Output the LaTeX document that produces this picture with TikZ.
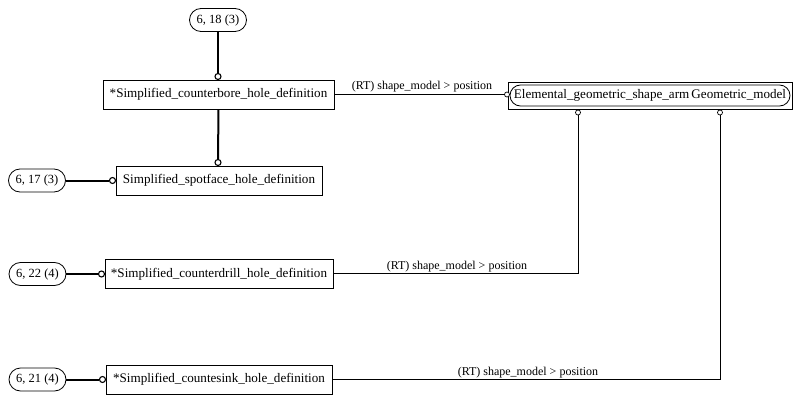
\documentclass[tikz,border=0pt]{standalone}
\usepackage{fontspec}
\setmainfont{Liberation Serif}
\usetikzlibrary{shapes.misc}
\begin{document}
\begin{tikzpicture}[x=1pt,y=-1pt,
  every node/.style={font=\fontsize{12}{14}\selectfont, inner sep=0pt},
  ebox/.style={draw, line width=0.8pt, minimum height=29pt, font=\fontsize{13.1}{15}\selectfont},
  pill/.style={draw, line width=0.8pt, rounded rectangle, minimum width=57pt, minimum height=23pt, font=\fontsize{12.5}{14}\selectfont},
  oc/.style={draw, circle, fill=white, line width=1.1pt, minimum size=6pt},
  ocs/.style={draw, circle, fill=white, line width=0.7pt, minimum size=5pt},
  thickln/.style={line width=2pt},
  thinln/.style={line width=0.8pt},
  lbl/.style={font=\fontsize{12}{14}\selectfont}]
\path[use as bounding box, fill=white] (0,0) rectangle (801,404);

\node[pill] (e18) at (218,20) {6, 18 (3)};
\node[ebox, minimum width=231pt] (cb) at (218.5,94.5) {*Simplified\_counterbore\_hole\_definition};
\node[ebox, minimum width=206pt] (sf) at (219,180.5) {Simplified\_spotface\_hole\_definition};
\node[pill] (e17) at (37,180.5) {6, 17 (3)};
\node[ebox, minimum width=228pt] (cd) at (219,274) {*Simplified\_counterdrill\_hole\_definition};
\node[pill] (e22) at (37.5,274) {6, 22 (4)};
\node[ebox, minimum width=226pt] (cs) at (219,379.5) {*Simplified\_countesink\_hole\_definition};
\node[pill] (e21) at (37.5,379.5) {6, 21 (4)};

\node[draw, line width=0.8pt, minimum width=284pt, minimum height=27pt] (el) at (650,95.5) {};
\node[draw, line width=0.8pt, rounded rectangle, minimum width=280pt, minimum height=21pt, font=\fontsize{13.1}{15}\selectfont] (eli) at (650,95.5) {Elemental\_geometric\_shape\_arm\,Geometric\_model};

% thick connectors
\node[oc] (c1) at (218,76.5) {};
\draw[thickln] (e18.south) -- (c1.north);
\node[oc] (c2) at (218,162.5) {};
\draw[thickln] (cb.south) -- (c2.north);
\node[oc] (c3) at (112.5,180.5) {};
\draw[thickln] (e17.east) -- (c3.west);
\node[oc] (c4) at (101.5,274) {};
\draw[thickln] (e22.east) -- (c4.west);
\node[oc] (c5) at (102.5,379.5) {};
\draw[thickln] (e21.east) -- (c5.west);

% thin connectors
\node[ocs] (d1) at (507,94.5) {};
\draw[thinln] (cb.east |- d1) -- (d1.west);
\node[lbl, anchor=south] (l1) at (422,92) {(RT) shape\_model > position};

\node[ocs] (d2) at (578,112.5) {};
\coordinate (k2) at (578,273);
\draw[thinln] (d2.south) -- (k2) -- (cd.east |- k2);
\node[lbl, anchor=south] (l2) at (457,272) {(RT) shape\_model > position};

\node[ocs] (d3) at (720,112.5) {};
\coordinate (k3) at (720,379);
\draw[thinln] (d3.south) -- (k3) -- (cs.east |- k3);
\node[lbl, anchor=south] (l3) at (528,378) {(RT) shape\_model > position};
\end{tikzpicture}
\end{document}
